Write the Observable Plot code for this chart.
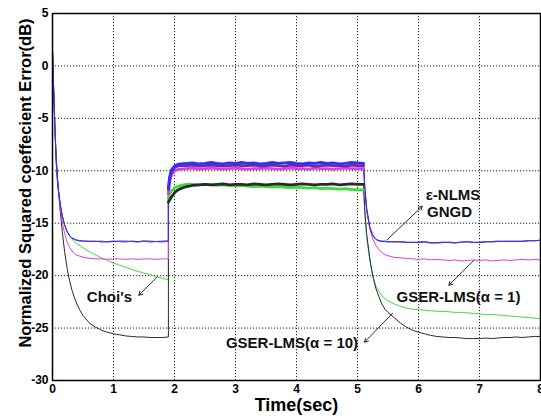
<!DOCTYPE html>
<html><head><meta charset="utf-8">
<script src="https://cdn.jsdelivr.net/npm/d3@7"></script>
<script src="https://cdn.jsdelivr.net/npm/@observablehq/plot@0.6"></script>
<style>body{margin:0;background:#fff;} svg{display:block}</style>
</head><body><div id="chart"></div>
<script>
// time samples (seconds) for the three phases
const t1 = [0,0.02,0.04,0.06,0.08,0.1,0.13,0.16,0.2,0.24,0.28,0.32,0.36,0.4,0.45,0.5,0.6,0.7,0.8,0.9,1.0,1.1,1.2,1.3,1.4,1.5,1.6,1.7,1.8,1.9];
const t2 = [1.9,1.92,1.95,2.0,2.05,2.1,2.2,2.3,2.4,2.5,2.6,2.7,2.8,2.9,3.0,3.1,3.2,3.3,3.4,3.5,3.6,3.7,3.8,3.9,4.0,4.1,4.2,4.3,4.4,4.5,4.6,4.7,4.8,4.9,5.0,5.1];
const t3 = [5.12,5.15,5.2,5.25,5.3,5.35,5.4,5.45,5.5,5.6,5.7,5.8,5.9,6.0,6.1,6.2,6.3,6.4,6.5,6.6,6.7,6.8,6.9,7.0,7.1,7.2,7.3,7.4,7.5,7.6,7.7,7.8,7.9,8.0];

// ε-NLMS
const nlms1 = [1.5,-2.5,-6,-9,-10.8,-12,-13.3,-14.3,-15.2,-15.8,-16.2,-16.4,-16.5,-16.6,-16.65,-16.7,-16.75,-16.7,-16.8,-16.75,-16.7,-16.75,-16.8,-16.7,-16.75,-16.7,-16.8,-16.75,-16.7,-16.7];
const nlms2 = [-11.6,-10.6,-9.9,-9.55,-9.4,-9.35,-9.3,-9.25,-9.35,-9.3,-9.2,-9.3,-9.35,-9.25,-9.3,-9.2,-9.3,-9.25,-9.35,-9.3,-9.2,-9.3,-9.25,-9.2,-9.3,-9.35,-9.25,-9.3,-9.2,-9.3,-9.25,-9.35,-9.3,-9.2,-9.25,-9.3];
const nlms3 = [-11.5,-13.5,-15.3,-16.1,-16.5,-16.65,-16.7,-16.7,-16.75,-16.8,-16.75,-16.8,-16.85,-16.8,-16.75,-16.85,-16.9,-16.85,-16.8,-16.85,-16.8,-16.75,-16.8,-16.85,-16.8,-16.75,-16.7,-16.75,-16.7,-16.75,-16.7,-16.65,-16.7,-16.6];
// GNGD
const gngd1 = [1.5,-2.5,-6,-9,-10.8,-12,-13.3,-14.3,-15.2,-15.8,-16.2,-16.45,-16.55,-16.65,-16.7,-16.7,-16.7,-16.75,-16.7,-16.8,-16.75,-16.7,-16.7,-16.75,-16.8,-16.7,-16.7,-16.75,-16.8,-16.7];
const gngd2 = [-11.8,-10.8,-10.1,-9.7,-9.55,-9.5,-9.5,-9.45,-9.55,-9.5,-9.45,-9.5,-9.55,-9.5,-9.45,-9.5,-9.5,-9.45,-9.55,-9.5,-9.45,-9.5,-9.55,-9.45,-9.5,-9.5,-9.45,-9.55,-9.5,-9.45,-9.5,-9.5,-9.55,-9.45,-9.5,-9.5];
const gngd3 = [-11.7,-13.7,-15.4,-16.2,-16.55,-16.7,-16.75,-16.75,-16.8,-16.75,-16.8,-16.85,-16.8,-16.85,-16.8,-16.9,-16.85,-16.8,-16.85,-16.9,-16.8,-16.8,-16.85,-16.8,-16.75,-16.8,-16.75,-16.7,-16.75,-16.7,-16.75,-16.7,-16.65,-16.65];
// GSER-LMS (α = 1)
const gser1a = [1.5,-2.5,-6,-9,-10.9,-12.2,-13.6,-14.9,-16.0,-16.8,-17.3,-17.65,-17.9,-18.05,-18.15,-18.25,-18.35,-18.4,-18.4,-18.45,-18.4,-18.4,-18.45,-18.4,-18.45,-18.4,-18.4,-18.45,-18.4,-18.4];
const gser1b = [-12.2,-11.1,-10.4,-10.0,-9.9,-9.85,-9.8,-9.75,-9.85,-9.8,-9.75,-9.8,-9.85,-9.8,-9.75,-9.8,-9.85,-9.8,-9.8,-9.75,-9.8,-9.85,-9.8,-9.75,-9.8,-9.8,-9.85,-9.75,-9.8,-9.8,-9.85,-9.8,-9.75,-9.8,-9.8,-9.8];
const gser1c = [-12,-13.8,-15.5,-16.5,-17.1,-17.5,-17.8,-18.0,-18.1,-18.25,-18.3,-18.35,-18.4,-18.45,-18.4,-18.5,-18.45,-18.5,-18.55,-18.5,-18.6,-18.55,-18.5,-18.55,-18.5,-18.6,-18.55,-18.5,-18.55,-18.5,-18.45,-18.5,-18.45,-18.5];
// Choi's
const choi1 = [1.5,-2.5,-6,-9,-10.8,-12,-13.3,-14.3,-15.2,-15.8,-16.2,-16.5,-16.75,-16.95,-17.15,-17.35,-17.7,-18.0,-18.3,-18.55,-18.8,-19.0,-19.2,-19.4,-19.6,-19.75,-19.9,-20.1,-20.25,-20.4];
const choi2 = [-12.6,-12.2,-11.9,-11.65,-11.5,-11.4,-11.3,-11.3,-11.35,-11.3,-11.35,-11.4,-11.35,-11.4,-11.45,-11.4,-11.45,-11.5,-11.45,-11.5,-11.55,-11.5,-11.55,-11.6,-11.55,-11.6,-11.65,-11.6,-11.7,-11.65,-11.7,-11.75,-11.7,-11.8,-11.8,-11.85];
const choi3 = [-14.0,-16.3,-18.5,-20.1,-21.0,-21.5,-21.9,-22.2,-22.4,-22.7,-22.9,-23.1,-23.2,-23.25,-23.3,-23.35,-23.4,-23.4,-23.45,-23.5,-23.5,-23.55,-23.6,-23.65,-23.7,-23.7,-23.75,-23.8,-23.85,-23.9,-23.95,-24.0,-24.05,-24.1];
// GSER-LMS (α = 10)
const gser10a = [1.5,-2.5,-6,-8.5,-10.5,-12,-14,-15.8,-17.8,-19.3,-20.5,-21.4,-22.1,-22.7,-23.3,-23.8,-24.5,-24.9,-25.2,-25.4,-25.55,-25.65,-25.75,-25.8,-25.85,-25.85,-25.9,-25.9,-25.9,-25.85];
const gser10b = [-13.0,-12.8,-12.5,-12.1,-11.85,-11.7,-11.5,-11.4,-11.35,-11.3,-11.35,-11.3,-11.25,-11.35,-11.3,-11.3,-11.35,-11.25,-11.3,-11.35,-11.3,-11.25,-11.3,-11.35,-11.3,-11.25,-11.3,-11.35,-11.3,-11.3,-11.25,-11.35,-11.3,-11.25,-11.3,-11.3];
const gser10c = [-13.8,-16.0,-18.3,-20.0,-21.2,-22.0,-22.7,-23.2,-23.5,-24.0,-24.5,-24.9,-25.2,-25.4,-25.55,-25.7,-25.8,-25.85,-25.9,-25.9,-25.95,-26.0,-26.0,-26.0,-25.95,-26.0,-25.95,-25.9,-25.9,-25.85,-25.9,-25.85,-25.8,-25.8];

const seriesNames = ["Choi's","GSER-LMS(α = 10)","GSER-LMS(α = 1)","GNGD","ε-NLMS"];
const seriesColors = ["#3ddc3d","#2a2a2a","#e03ce0","#6a2aa8","#3232f0"];

const xTicks = [0,1,2,3,4,5,6,7,8];
const yTicks = [5,0,-5,-10,-15,-20,-25,-30];
const xLabel = "Time(sec)";
const yLabel = "Normalized Squared coeffecient Error(dB)";

// annotations
const noteText = ["ε-NLMS","GNGD","Choi's","GSER-LMS(α = 1)","GSER-LMS(α = 10)"];
const noteT = [6.566, 6.508, 0.934, 6.656, 3.926];
const noteDb = [-12.35, -13.97, -22.03, -22.03, -26.45];
const arrowT1 = [5.487, 6.907, 1.716, 5.574];
const arrowDb1 = [-16.57, -18.54, -20.13, -23.59];
const arrowT2 = [6.061, 6.497, 1.415, 5.115];
const arrowDb2 = [-13.39, -20.92, -21.87, -26.35];

const valueSets = [[choi1,choi2,choi3],[gser10a,gser10b,gser10c],[gser1a,gser1b,gser1c],[gngd1,gngd2,gngd3],[nlms1,nlms2,nlms3]];
const rows = [];
seriesNames.forEach((name, k) => {
  [t1,t2,t3].forEach((ts, p) => {
    ts.forEach((t, i) => rows.push({t, v: valueSets[k][p][i], name, phase: p + 1}));
  });
});
const notes = noteText.map((text, i) => ({text, t: noteT[i], v: noteDb[i]}));
const arrows = arrowT1.map((t, i) => ({t1: t, v1: arrowDb1[i], t2: arrowT2[i], v2: arrowDb2[i]}));

const chart = Plot.plot({
  width: 541, height: 418,
  marginLeft: 52, marginRight: 1, marginTop: 13, marginBottom: 38,
  style: {fontFamily: "'Liberation Sans', Arial, sans-serif", fontSize: "12px", fontWeight: "bold", background: "#fff", color: "#000"},
  x: {domain: [0, 8], ticks: xTicks, tickFormat: d => String(d), tickSize: 0, tickPadding: 4, label: null},
  y: {domain: [-30, 5], ticks: yTicks, tickFormat: d => String(d), tickSize: 0, tickPadding: 4, label: null},
  color: {domain: seriesNames, range: seriesColors},
  marks: [
    Plot.ruleX(xTicks.slice(1, -1), {stroke: "#222", strokeWidth: 1, strokeDasharray: "1.2,1.8"}),
    Plot.ruleY(yTicks.slice(1, -1), {stroke: "#222", strokeWidth: 1, strokeDasharray: "1.2,1.8"}),
    Plot.line(rows, {x: "t", y: "v", z: "name", stroke: "name", strokeWidth: 1}),
    Plot.line(rows.filter(d => d.phase === 2), {x: "t", y: "v", z: "name", stroke: "name", strokeWidth: 2.8}),
    Plot.frame({stroke: "#000", strokeWidth: 1.5}),
    Plot.arrow(arrows, {x1: "t1", y1: "v1", x2: "t2", y2: "v2", stroke: "#2a2a2a", strokeWidth: 1, headLength: 6}),
    Plot.text(notes, {x: "t", y: "v", text: "text", fontSize: 15, fontWeight: "bold", fill: "#111"}),
    Plot.text([yLabel], {frameAnchor: "left", textAnchor: "middle", lineAnchor: "middle", rotate: -90, dx: -27, dy: -14, fontSize: 16.5, fontWeight: "bold"}),
    Plot.text([xLabel], {frameAnchor: "bottom", textAnchor: "middle", lineAnchor: "middle", dy: 25, fontSize: 18, fontWeight: "bold"})
  ]
});
document.getElementById("chart").appendChild(chart);
</script>
</body></html>
